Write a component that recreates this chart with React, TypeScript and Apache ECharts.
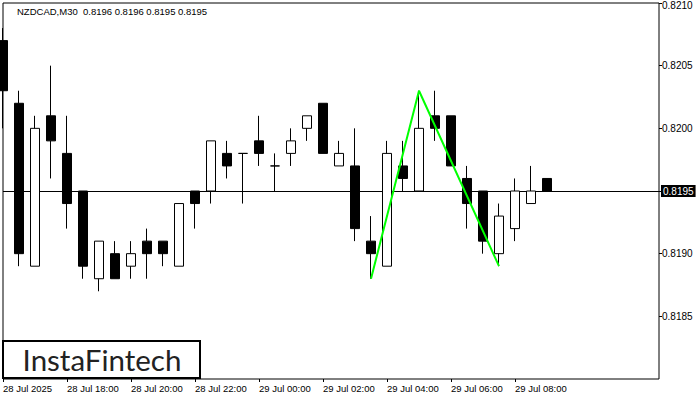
import React, { useEffect, useRef } from "react";
import * as echarts from "echarts";

const symbol = "NZDCAD";
const timeframe = "M30";

const times = [
  "28 Jul 16:00", "28 Jul 16:30", "28 Jul 17:00", "28 Jul 17:30",
  "28 Jul 18:00", "28 Jul 18:30", "28 Jul 19:00", "28 Jul 19:30",
  "28 Jul 20:00", "28 Jul 20:30", "28 Jul 21:00", "28 Jul 21:30",
  "28 Jul 22:00", "28 Jul 22:30", "28 Jul 23:00", "28 Jul 23:30",
  "29 Jul 00:00", "29 Jul 00:30", "29 Jul 01:00", "29 Jul 01:30",
  "29 Jul 02:00", "29 Jul 02:30", "29 Jul 03:00", "29 Jul 03:30",
  "29 Jul 04:00", "29 Jul 04:30", "29 Jul 05:00", "29 Jul 05:30",
  "29 Jul 06:00", "29 Jul 06:30", "29 Jul 07:00", "29 Jul 07:30",
  "29 Jul 08:00", "29 Jul 08:30", "29 Jul 09:00",
];

const tickLabels = [
  "28 Jul 2025", "28 Jul 18:00", "28 Jul 20:00", "28 Jul 22:00",
  "29 Jul 00:00", "29 Jul 02:00", "29 Jul 04:00", "29 Jul 06:00", "29 Jul 08:00",
];

const opens = [
  0.8207, 0.8202, 0.8189, 0.8201, 0.8198, 0.8195, 0.8188, 0.8190, 0.8189, 0.8191,
  0.8191, 0.8189, 0.8195, 0.8195, 0.8198, 0.8198, 0.8199, 0.8197, 0.8198, 0.8200,
  0.8202, 0.8197, 0.8197, 0.8191, 0.8189, 0.8197, 0.8195, 0.8201, 0.8201, 0.8196,
  0.8195, 0.8190, 0.8192, 0.8194, 0.8196,
];
const closes = [
  0.8203, 0.8190, 0.8200, 0.8199, 0.8194, 0.8189, 0.8191, 0.8188, 0.8190, 0.8190,
  0.8190, 0.8194, 0.8194, 0.8199, 0.8197, 0.8198, 0.8198, 0.8197, 0.8199, 0.8201,
  0.8198, 0.8198, 0.8192, 0.8190, 0.8198, 0.8196, 0.8200, 0.8200, 0.8197, 0.8194,
  0.8191, 0.8193, 0.8195, 0.8195, 0.8195,
];
const lows = [
  0.8200, 0.8189, 0.8189, 0.8196, 0.8192, 0.8188, 0.8187, 0.8188, 0.8188, 0.8188,
  0.8189, 0.8189, 0.8192, 0.8194, 0.8196, 0.8194, 0.8197, 0.8195, 0.8197, 0.8199,
  0.8198, 0.8197, 0.8191, 0.8188, 0.8189, 0.8195, 0.8195, 0.8199, 0.8197, 0.8192,
  0.8190, 0.8189, 0.8191, 0.8194, 0.8195,
];
const highs = [
  0.8208, 0.8203, 0.8201, 0.8205, 0.8201, 0.8195, 0.8191, 0.8191, 0.8191, 0.8192,
  0.8191, 0.8194, 0.8195, 0.8199, 0.8199, 0.8198, 0.8201, 0.8198, 0.8200, 0.8201,
  0.8202, 0.8199, 0.8200, 0.8193, 0.8199, 0.8199, 0.8203, 0.8203, 0.8201, 0.8197,
  0.8195, 0.8194, 0.8196, 0.8197, 0.8196,
];

// Double top pattern (green polyline): candle indices and prices
const patternIdx = [23, 26, 31];
const patternVals = [0.8188, 0.8203, 0.8189];

const currentPrice = 0.8195;
const yMin = 0.818;
const yMax = 0.821;
const yStep = 0.0005;
const totalSlots = 42;

const logoText = "InstaFintech";

const FONT = "'Liberation Sans', Arial, sans-serif";

export default function App() {
  const ref = useRef<HTMLDivElement>(null);

  useEffect(() => {
    if (!ref.current) return;
    const chart = echarts.init(ref.current, null, { renderer: "svg" });
    const n = opens.length;
    const cats = [...times, ...Array(totalSlots - n).fill("")];
    const candles = opens.map((o, i) => [o, closes[i], lows[i], highs[i]]);
    const last = n - 1;
    const title = `${symbol},${timeframe}  ${opens[last].toFixed(4)} ${highs[last].toFixed(4)} ${lows[last].toFixed(4)} ${closes[last].toFixed(4)}`;
    const showIdx = (idx: number) => idx % 4 === 0 && idx / 4 < tickLabels.length;

    chart.setOption({
      animation: false,
      backgroundColor: "#fff",
      title: {
        text: title,
        left: 17,
        top: 6,
        padding: 0,
        textStyle: { fontSize: 9.5, fontWeight: "normal", color: "#000", fontFamily: FONT },
      },
      grid: {
        left: 3,
        right: 41,
        top: 3,
        bottom: 21,
        show: true,
        borderColor: "#000",
        borderWidth: 1,
        backgroundColor: "transparent",
      },
      xAxis: {
        type: "category",
        data: cats,
        boundaryGap: false,
        axisLine: { show: false },
        axisTick: {
          show: true,
          length: 3,
          interval: (idx: number) => showIdx(idx),
          lineStyle: { color: "#000" },
        },
        axisLabel: {
          interval: (idx: number) => showIdx(idx),
          formatter: (_v: string, idx: number) => tickLabels[idx / 4] ?? "",
          align: "left",
          margin: 4,
          fontSize: 9.5,
          color: "#000",
          fontFamily: FONT,
        },
        splitLine: { show: false },
      },
      yAxis: {
        type: "value",
        position: "right",
        min: yMin,
        max: yMax,
        interval: yStep,
        axisLine: { show: false },
        axisTick: { show: true, length: 3, lineStyle: { color: "#000" } },
        splitLine: { show: false },
        axisLabel: {
          showMinLabel: false,
          margin: 3,
          fontSize: 10,
          color: "#000",
          fontFamily: FONT,
          formatter: (v: number) =>
            Math.abs(v - yMax) < 1e-9 ? `{t|${v.toFixed(4)}}` : v.toFixed(4),
          rich: {
            t: { padding: [5, 0, 0, 0], fontSize: 10, color: "#000", fontFamily: FONT },
          },
        },
      },
      series: [
        {
          type: "candlestick",
          data: candles,
          barWidth: 10,
          clip: false,
          silent: true,
          itemStyle: {
            color: "#fff",
            color0: "#000",
            borderColor: "#000",
            borderColor0: "#000",
            borderColorDoji: "#000",
            borderWidth: 1,
          },
          z: 2,
        },
        {
          type: "line",
          data: patternIdx.map((x, i) => [x, patternVals[i]]),
          symbol: "none",
          silent: true,
          lineStyle: { color: "#00ff00", width: 2 },
          z: 5,
          markLine: {
            silent: true,
            precision: 4,
            symbol: ["none", "none"],
            lineStyle: { color: "#000", width: 1, type: "solid" },
            label: {
              show: true,
              position: "end",
              distance: 2,
              formatter: currentPrice.toFixed(4),
              color: "#fff",
              backgroundColor: "#000",
              padding: [1, 2, 1, 2],
              fontSize: 10,
              fontFamily: FONT,
            },
            data: [{ yAxis: currentPrice }],
            z: 1,
          },
        },
      ],
      graphic: [
        {
          type: "rect",
          shape: { x: 3, y: 341, width: 197, height: 37 },
          style: { fill: "#fff", stroke: "#000", lineWidth: 2 },
          z: 10,
        },
        {
          type: "text",
          x: 102,
          y: 359.5,
          style: {
            text: logoText,
            fontSize: 29.5,
            fontFamily: "Lato, 'Noto Sans', sans-serif",
            fill: "#222",
            align: "center",
            verticalAlign: "middle",
          },
          z: 11,
        },
      ],
    });

    return () => chart.dispose();
  }, []);

  return (
    <div
      ref={ref}
      style={{ position: "fixed", left: 0, top: 0, width: 700, height: 400, background: "#fff" }}
    />
  );
}
